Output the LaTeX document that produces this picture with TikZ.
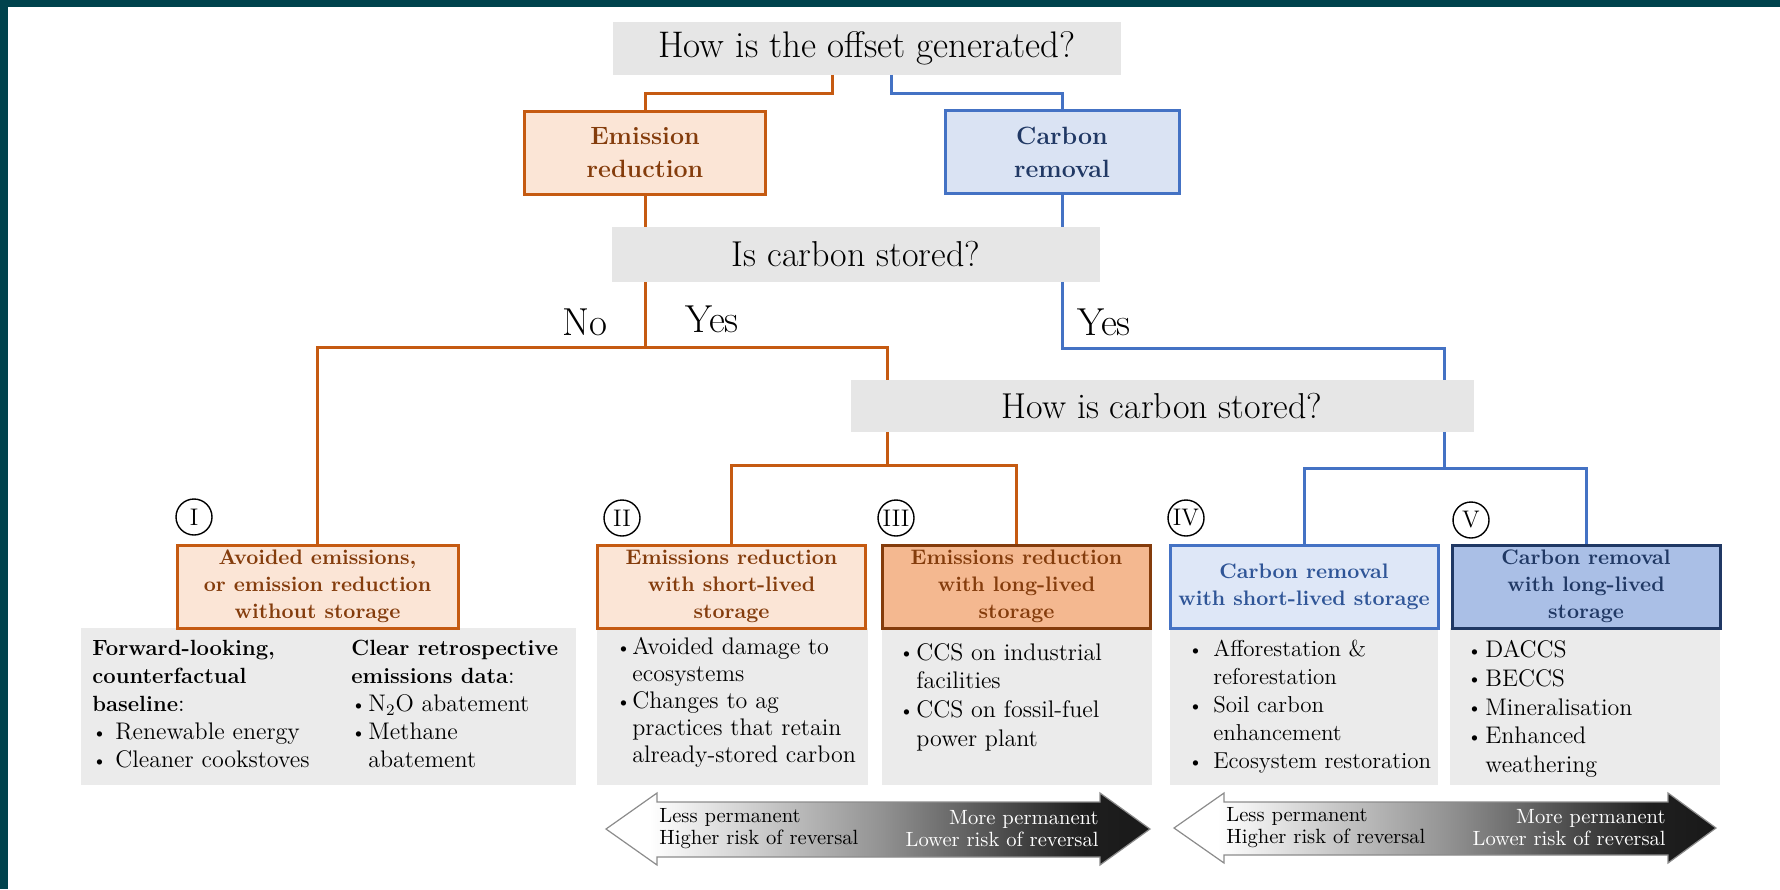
\documentclass[tikz,border=0pt]{standalone}
\usepackage{tikz}
\definecolor{frameteal}{HTML}{00434D}
\definecolor{qgray}{HTML}{E6E6E6}
\definecolor{pgray}{HTML}{EBEBEB}
\definecolor{orline}{HTML}{C55A11}
\definecolor{orfill}{HTML}{FBE5D6}
\definecolor{orfillB}{HTML}{F4B890}
\definecolor{ordark}{HTML}{843C0C}
\definecolor{blline}{HTML}{4472C4}
\definecolor{blfill}{HTML}{DAE3F3}
\definecolor{blfillA}{HTML}{DEE7F7}
\definecolor{blfillB}{HTML}{AABFE6}
\definecolor{bltext}{HTML}{2F5597}
\definecolor{bldark}{HTML}{203864}
\pgfdeclarehorizontalshading{permshade}{100bp}{color(0bp)=(white); color(29bp)=(white); color(50bp)=(black!42); color(69bp)=(black!88); color(100bp)=(black)}
\newcommand{\bitem}[1][7pt]{\makebox[#1][l]{\raisebox{0.7pt}{\fontsize{9}{9}\selectfont\textbullet}}}
\newcommand{\bcont}[1][7pt]{\hspace*{#1}}
\newcommand{\phead}[1]{{\fontsize{11}{14}\selectfont\bfseries #1}}
\begin{document}
\begin{tikzpicture}[x=0.5pt,y=-0.5pt,
    qbox/.style={fill=qgray, inner sep=0pt, font=\fontsize{18}{21}\selectfont},
    ans/.style={inner sep=0pt, font=\fontsize{19.5}{22}\selectfont},
    topbox/.style={line width=1.5pt, inner sep=0pt, minimum height=41.5pt, align=center, font=\bfseries\fontsize{12.5}{16.5}\selectfont},
    catbox/.style={line width=1.5pt, inner sep=0pt, minimum width=134pt, minimum height=41.5pt, align=center, font=\bfseries\fontsize{10.5}{13.5}\selectfont},
    panel/.style={fill=pgray, inner sep=0pt, minimum height=78.5pt},
    ptext/.style={anchor=north west, inner sep=0pt, align=left, font=\fontsize{12}{14}\selectfont},
    numeral/.style={circle, draw, line width=0.7pt, inner sep=0pt, minimum size=18pt, font=\fontsize{12}{12}\selectfont},
    oline/.style={draw=orline, line width=1.5pt},
    bline/.style={draw=blline, line width=1.5pt},
    arrowtext/.style={inner sep=0pt, font=\fontsize{10.3}{11}\selectfont}
  ]
  \useasboundingbox (0,0) rectangle (1780,889);
  \fill[white] (0,0) rectangle (1780,889);
  \fill[frameteal] (0,0) rectangle (1780,7);
  \fill[frameteal] (0,0) rectangle (8,889);

  \node[qbox, minimum width=254pt, minimum height=26.5pt, font=\fontsize{18.5}{21}\selectfont] (gen) at (867,48) {How is the offset generated?};
  \node[topbox, draw=orline, fill=orfill, text=ordark, minimum width=120.5pt] (er) at (645,153) {Emission\\reduction};
  \node[topbox, draw=blline, fill=blfill, text=bldark, minimum width=117pt] (cr) at (1062,152) {Carbon\\removal};
  \node[qbox, minimum width=244pt, minimum height=27.5pt] (stored) at (856,254.5) {Is carbon stored?};
  \node[qbox, minimum width=311.5pt, minimum height=26pt] (hows) at (1162,406) {How is carbon stored?};
  \node[ans] (no) at (585,322) {No};
  \node[ans] (yesor) at (712,319) {Yes};
  \node[ans] (yesbl) at (1104,322) {Yes};

  \node[panel, minimum width=247.5pt] (pI) at (328.5,706.5) {};
  \node[panel, minimum width=135.5pt] (pII) at (732.5,706.5) {};
  \node[panel, minimum width=135pt] (pIII) at (1017,706.5) {};
  \node[panel, minimum width=134pt] (pIV) at (1304,706.5) {};
  \node[panel, minimum width=135pt] (pV) at (1585,706.5) {};

  \node[ptext] (tIa) at (92,640) {\phead{Forward-looking,}\\\phead{counterfactual}\\\phead{baseline}:\\\bitem[11.5pt]Renewable energy\\\bitem[11.5pt]Cleaner cookstoves};
  \node[ptext] (tIb) at (351,640) {\phead{Clear retrospective}\\\phead{emissions data}:\\\bitem[8.5pt]N\textsubscript{2}O abatement\\\bitem[8.5pt]Methane\\\bcont[8.5pt]abatement};
  \node[ptext, font=\fontsize{12}{13.5}\selectfont] (tII) at (616,637) {\bitem[8pt]Avoided damage to\\\bcont[8pt]ecosystems\\\bitem[8pt]Changes to ag\\\bcont[8pt]practices that retain\\\bcont[8pt]already-stored carbon};
  \node[ptext, font=\fontsize{12}{14.3}\selectfont] (tIII) at (899,643) {\bitem[8.5pt]CCS on industrial\\\bcont[8.5pt]facilities\\\bitem[8.5pt]CCS on fossil-fuel\\\bcont[8.5pt]power plant};
  \node[ptext, font=\fontsize{11.5}{14}\selectfont] (tIV) at (1188,640) {\bitem[12.5pt]Afforestation \&\\\bcont[12.5pt]reforestation\\\bitem[12.5pt]Soil carbon\\\bcont[12.5pt]enhancement\\\bitem[12.5pt]Ecosystem restoration};
  \node[ptext, font=\fontsize{12}{14.4}\selectfont] (tV) at (1467,640) {\bitem[9pt]DACCS\\\bitem[9pt]BECCS\\\bitem[9pt]Mineralisation\\\bitem[9pt]Enhanced\\\bcont[9pt]weathering};

  \node[catbox, draw=orline, fill=orfill, text=ordark, minimum width=140.5pt] (bI) at (317.5,586.5) {Avoided emissions,\\or emission reduction\\without storage};
  \node[catbox, draw=orline, fill=orfill, text=ordark] (bII) at (731.5,586.5) {Emissions reduction\\with short-lived\\storage};
  \node[catbox, draw=ordark, fill=orfillB, text=ordark] (bIII) at (1016.5,586.5) {Emissions reduction\\with long-lived\\storage};
  \node[catbox, draw=blline, fill=blfillA, text=bltext] (bIV) at (1304,586.5) {Carbon removal\\with short-lived storage};
  \node[catbox, draw=bldark, fill=blfillB, text=bldark] (bV) at (1586,586.5) {Carbon removal\\with long-lived\\storage};

  \node[numeral] (nI) at (194,517) {I};
  \node[numeral] (nII) at (622,518) {II};
  \node[numeral] (nIII) at (896,518) {III};
  \node[numeral] (nIV) at (1186,518) {IV};
  \node[numeral] (nV) at (1471,520) {V};

  \coordinate (sOr) at (832,93);
  \coordinate (sBl) at (891,93);
  \coordinate (forkOr) at (645,347);
  \coordinate (yesOr) at (887,347);
  \coordinate (blA) at (1444,348);
  \coordinate (orB) at (887,465);
  \coordinate (blB) at (1444,468);
  \draw[oline] (gen.south -| sOr) -- (sOr) -| (er.north);
  \draw[bline] (gen.south -| sBl) -- (sBl) -| (cr.north);
  \draw[oline] (er.south) -- (er.south |- stored.north);
  \draw[bline] (cr.south) -- (cr.south |- stored.north);
  \draw[oline] (stored.south -| forkOr) -- (forkOr);
  \draw[oline] (bI.north) |- (forkOr) -| (hows.north -| yesOr);
  \draw[bline] (stored.south -| cr.south) |- (blA) -- (hows.north -| blA);
  \draw[oline] (hows.south -| orB) -- (orB);
  \draw[oline] (bII.north) |- (orB) -| (bIII.north);
  \draw[bline] (hows.south -| blB) -- (blB);
  \draw[bline] (bIV.north) |- (blB) -| (bV.north);

  \shadedraw[shading=permshade, draw=black!45, line width=0.6pt] (606,829) -- (657,793) -- (657,802) -- (1100,802) -- (1100,793) -- (1150,829) -- (1100,865) -- (1100,857) -- (657,857) -- (657,865) -- cycle;
  \shadedraw[shading=permshade, draw=black!45, line width=0.6pt] (1174,828) -- (1224,793) -- (1224,802) -- (1668,802) -- (1668,793) -- (1716,828) -- (1668,863) -- (1668,855) -- (1224,855) -- (1224,863) -- cycle;
  \node[arrowtext, anchor=west, align=left] (lessA) at (659,829) {Less permanent\\Higher risk of reversal};
  \node[arrowtext, anchor=east, align=right, text=white] (moreA) at (1099,829) {More permanent\\Lower risk of reversal};
  \node[arrowtext, anchor=west, align=left] (lessB) at (1226,828) {Less permanent\\Higher risk of reversal};
  \node[arrowtext, anchor=east, align=right, text=white] (moreB) at (1666,828) {More permanent\\Lower risk of reversal};
\end{tikzpicture}
\end{document}
